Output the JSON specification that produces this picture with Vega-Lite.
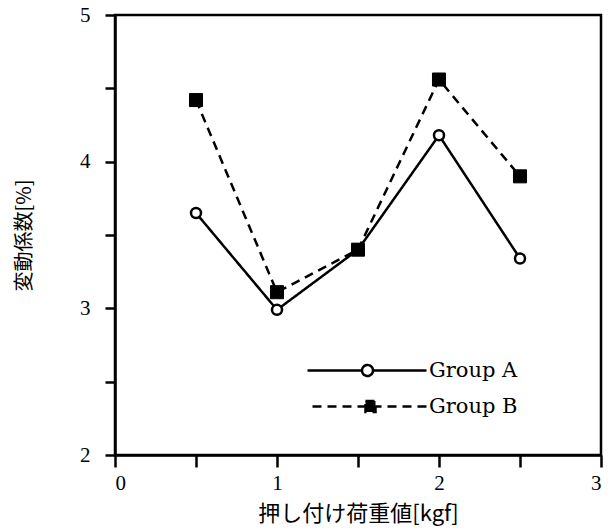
{
  "$schema": "https://vega.github.io/schema/vega-lite/v6.json",
  "width": 486,
  "height": 440,
  "autosize": {"type": "none"},
  "padding": {"left": 115, "top": 15, "right": 11, "bottom": 75},
  "background": "white",
  "data": {
    "values": [
      {"x": 0.5, "y": 3.65, "group": "Group A"},
      {"x": 1.0, "y": 2.99, "group": "Group A"},
      {"x": 1.5, "y": 3.40, "group": "Group A"},
      {"x": 2.0, "y": 4.18, "group": "Group A"},
      {"x": 2.5, "y": 3.34, "group": "Group A"},
      {"x": 0.5, "y": 4.42, "group": "Group B"},
      {"x": 1.0, "y": 3.11, "group": "Group B"},
      {"x": 1.5, "y": 3.40, "group": "Group B"},
      {"x": 2.0, "y": 4.56, "group": "Group B"},
      {"x": 2.5, "y": 3.90, "group": "Group B"}
    ]
  },
  "config": {
    "view": {"stroke": "black", "strokeWidth": 2.5},
    "axis": {
      "domainColor": "black",
      "domainWidth": 2.5,
      "tickColor": "black",
      "tickWidth": 2.5,
      "labelFont": "Liberation Serif",
      "labelFontSize": 21,
      "labelColor": "black",
      "titleFont": "Noto Sans CJK JP",
      "titleFontSize": 20,
      "titleFontWeight": "normal",
      "titleColor": "black",
      "grid": false
    }
  },
  "encoding": {
    "x": {
      "field": "x",
      "type": "quantitative",
      "scale": {"domain": [0, 3], "nice": false},
      "axis": {
        "values": [0, 0.5, 1, 1.5, 2, 2.5, 3],
        "labelExpr": "datum.value % 1 === 0 ? format(datum.value, 'd') : ''",
        "tickSize": 12,
        "labelPadding": 5,
        "title": "押し付け荷重値[kgf]",
        "titleFontSize": 22,
        "titlePadding": 10,
        "encode": {
          "ticks": {"update": {"y2": {"signal": "datum.value % 1 === 0 ? 12 : 6"}}}
        }
      }
    },
    "y": {
      "field": "y",
      "type": "quantitative",
      "scale": {"domain": [2, 5], "nice": false},
      "axis": {
        "values": [2, 2.5, 3, 3.5, 4, 4.5, 5],
        "labelExpr": "datum.value % 1 === 0 ? format(datum.value, 'd') : ''",
        "tickSize": 10,
        "labelPadding": 15,
        "title": "変動係数[%]",
        "titlePadding": 45,
        "encode": {
          "ticks": {"update": {"x2": {"signal": "datum.value % 1 === 0 ? -10 : -6"}}}
        }
      }
    }
  },
  "layer": [
    {
      "mark": {"type": "line", "color": "black", "strokeWidth": 2.5},
      "encoding": {
        "strokeDash": {
          "field": "group",
          "type": "nominal",
          "scale": {"domain": ["Group A", "Group B"], "range": [[1, 0], [9, 6]]},
          "legend": {
            "orient": "none",
            "legendX": 301,
            "legendY": 345,
            "title": null,
            "padding": 0,
            "symbolSize": 100,
            "symbolStrokeWidth": 2.5,
            "symbolStrokeColor": "black",
            "labelFont": "DejaVu Serif",
            "labelFontSize": 21,
            "labelColor": "black",
            "labelOffset": -8,
            "rowPadding": 14,
            "encode": {
              "symbols": {
                "update": {
                  "shape": {"signal": "datum.value === 'Group A' ? 'M-23.8,0H-12.9M-10.7,0H0M-10.7,0A1.1,1.1 0 1,1 -12.9,0A1.1,1.1 0 1,1 -10.7,0' : 'M-22.8,0H0M-12.2,-1.1H-10.2V1.1H-12.2Z'"},
                  "fill": {"signal": "datum.value === 'Group A' ? 'white' : 'black'"},
                  "stroke": {"value": "black"},
                  "strokeWidth": {"value": 2.5},
                  "strokeDash": {"signal": "datum.value === 'Group A' ? [1, 0] : [6, 4]"},
                  "size": {"value": 100}
                }
              }
            }
          }
        }
      }
    },
    {
      "transform": [{"filter": "datum.group === 'Group A'"}],
      "mark": {"type": "point", "shape": "circle", "filled": true, "fill": "white", "stroke": "black", "strokeWidth": 2.5, "size": 100, "opacity": 1}
    },
    {
      "transform": [{"filter": "datum.group === 'Group B'"}],
      "mark": {"type": "point", "shape": "square", "filled": true, "fill": "black", "stroke": "black", "strokeWidth": 1, "size": 170, "opacity": 1}
    }
  ]
}
